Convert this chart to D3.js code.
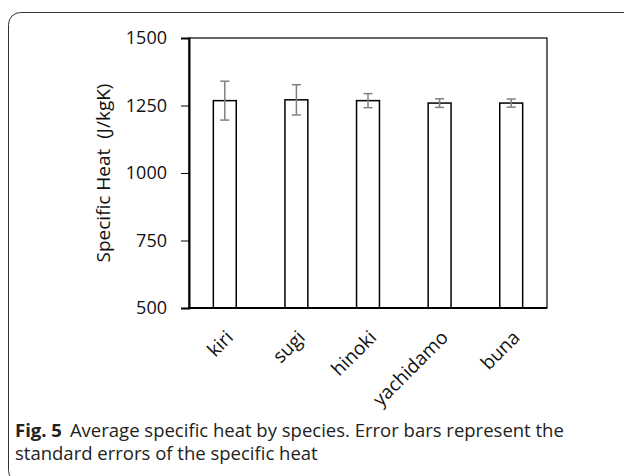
<!DOCTYPE html>
<html>
<head>
<meta charset="utf-8">
<script src="https://cdn.jsdelivr.net/npm/d3@7"></script>
<style>
body { margin: 0; background: #fff; }
svg text { font-family: "Open Sans", "Noto Sans", sans-serif; }
</style>
</head>
<body>
<script>
var species = ["kiri", "sugi", "hinoki", "yachidamo", "buna"]
var meanHeat = [1268, 1271, 1268, 1259, 1259]
var stdErr = [72, 56, 26, 16, 15]
var yTicks = [500, 750, 1000, 1250, 1500]

var svg = d3.select("body").append("svg")
  .attr("width", 624)
  .attr("height", 476)

// ramka podpisu
svg.append("rect")
  .attr("x", 8.5).attr("y", 12.5)
  .attr("width", 640).attr("height", 470)
  .attr("rx", 12).attr("ry", 12)
  .attr("fill", "none")
  .attr("stroke", "#333")
  .attr("stroke-width", 1)

var lewo = 189, prawo = 547, gora = 38, dol = 308

var x = d3.scaleBand().domain(species).range([lewo, prawo]).paddingInner(0.68).paddingOuter(0.34)
var y = d3.scaleLinear().domain([500, 1500]).range([dol, gora])

var dane = species.map(function(s, i) { return {name: s, v: meanHeat[i], se: stdErr[i]} })

// ramka wykresu
svg.append("rect")
  .attr("x", lewo).attr("y", gora)
  .attr("width", prawo - lewo).attr("height", dol - gora)
  .attr("fill", "none").attr("stroke", "#000").attr("stroke-width", 1.2)

var osY = svg.append("g")
  .attr("transform", "translate(" + lewo + ",0)")
  .call(d3.axisLeft(y).tickValues(yTicks).tickSize(8).tickPadding(14).tickFormat(d3.format("d")))
osY.select(".domain").attr("stroke-width", 2)
osY.selectAll("text").style("font-size", "18px").attr("fill", "#111")

svg.selectAll(".slupek").data(dane).enter().append("rect")
  .attr("class", "slupek")
  .attr("x", function(d) { return x(d.name) })
  .attr("y", function(d) { return y(d.v) })
  .attr("width", x.bandwidth())
  .attr("height", function(d) { return dol - y(d.v) })
  .attr("fill", "#fff")
  .attr("stroke", "#000")
  .attr("stroke-width", 1.5)

var blad = svg.selectAll(".blad").data(dane).enter().append("g").attr("class", "blad")
  .attr("stroke", "#808080").attr("stroke-width", 1.5)
blad.append("line")
  .attr("x1", function(d) { return x(d.name) + x.bandwidth() / 2 })
  .attr("x2", function(d) { return x(d.name) + x.bandwidth() / 2 })
  .attr("y1", function(d) { return y(d.v + d.se) })
  .attr("y2", function(d) { return y(d.v - d.se) })
blad.append("line")
  .attr("x1", function(d) { return x(d.name) + x.bandwidth() / 2 - 4.5 })
  .attr("x2", function(d) { return x(d.name) + x.bandwidth() / 2 + 4.5 })
  .attr("y1", function(d) { return y(d.v + d.se) })
  .attr("y2", function(d) { return y(d.v + d.se) })
blad.append("line")
  .attr("x1", function(d) { return x(d.name) + x.bandwidth() / 2 - 4.5 })
  .attr("x2", function(d) { return x(d.name) + x.bandwidth() / 2 + 4.5 })
  .attr("y1", function(d) { return y(d.v - d.se) })
  .attr("y2", function(d) { return y(d.v - d.se) })

// os X
svg.append("line")
  .attr("x1", lewo).attr("x2", prawo)
  .attr("y1", dol).attr("y2", dol)
  .attr("stroke", "#000").attr("stroke-width", 2)

svg.selectAll(".etykieta").data(species).enter().append("text")
  .attr("class", "etykieta")
  .attr("transform", function(d) { return "translate(" + (x(d) + x.bandwidth() / 2 + 5) + "," + (dol + 26) + ") rotate(-45)" })
  .attr("text-anchor", "end")
  .attr("dy", "0.35em")
  .style("font-size", "19px")
  .attr("fill", "#111")
  .text(function(d) { return d })

svg.append("text")
  .attr("transform", "translate(110,173) rotate(-90)")
  .attr("text-anchor", "middle")
  .style("font-size", "19px")
  .attr("fill", "#111")
  .attr("xml:space", "preserve")
  .text("Specific Heat  (J/kgK)")

var podpis = svg.append("text").attr("x", 15).attr("y", 437).style("font-size", "18.5px").attr("fill", "#222")
podpis.append("tspan").style("font-weight", "bold").text("Fig. 5")
podpis.append("tspan").attr("dx", 8).text("Average specific heat by species. Error bars represent the")
svg.append("text").attr("x", 15).attr("y", 460).style("font-size", "18.5px").attr("fill", "#222")
  .text("standard errors of the specific heat")
</script>
</body>
</html>
